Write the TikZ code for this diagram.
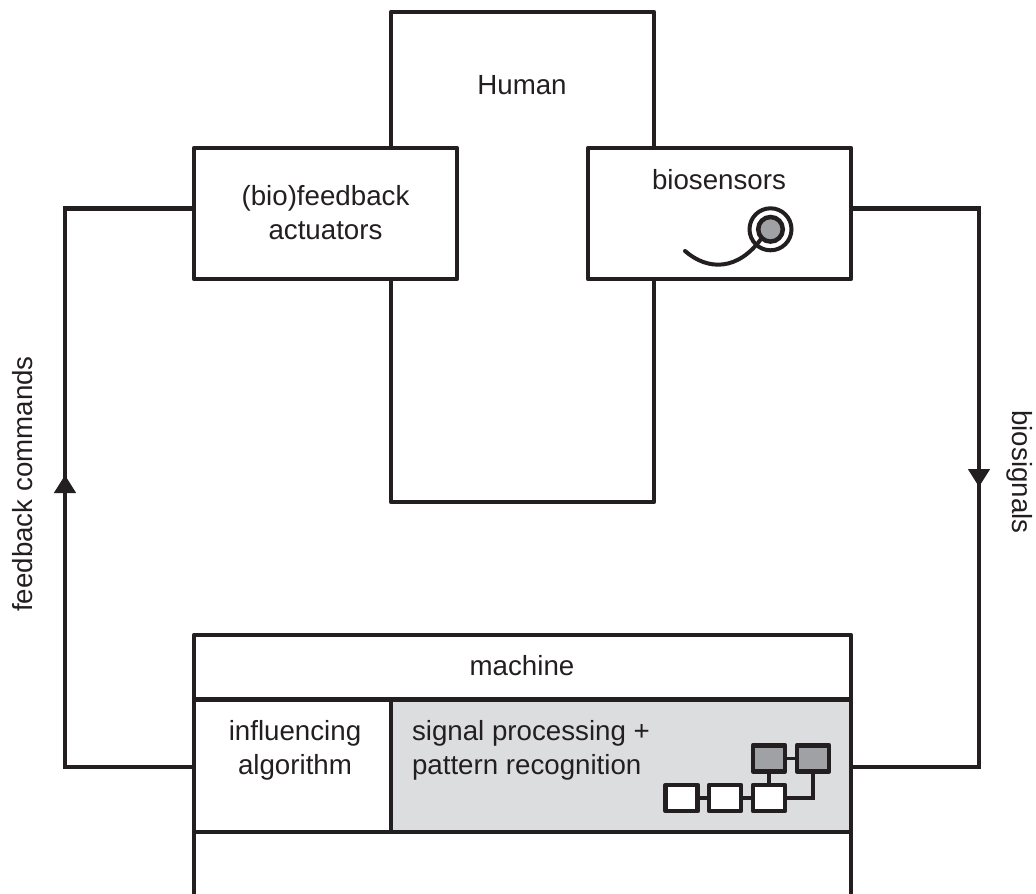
\documentclass[tikz,border=0pt]{standalone}
\usepackage{fontspec}
\setmainfont{Liberation Sans}
\usetikzlibrary{arrows.meta}
\definecolor{ink}{HTML}{231F20}
\definecolor{lightpanel}{HTML}{DCDDDF}
\definecolor{midgray}{HTML}{A0A1A4}
\tikzset{
  x=1pt,y=-1pt,
  every node/.style={font=\fontsize{27.7}{33.5}\selectfont,text=ink,inner sep=0pt,outer sep=0pt},
  boxed/.style={draw=ink,line width=4.7pt,fill=white,line join=round},
  wire/.style={draw=ink,line width=4.7pt},
  tiny/.style={draw=ink,line width=4.7pt,line join=round,fill=white,minimum width=32pt,minimum height=26pt},
  tinygray/.style={tiny,fill=midgray},
  tinywire/.style={draw=ink,line width=3.6pt},
  flowtip/.style={-{Triangle[length=18pt,width=21pt,sep=0pt]}},
  label/.style={align=center,anchor=base}
}
\begin{document}
\begin{tikzpicture}
\useasboundingbox (0,0) rectangle (1036,894);
\clip (0,0) rectangle (1036,894);
% Human
\node[boxed,minimum width=263pt,minimum height=490pt] (human) at (522.5,257) {};
\node[label] (humantext) at (522,94) {Human};
% Actuators and sensors
\node[boxed,minimum width=263pt,minimum height=131pt] (actu) at (325.5,213.5) {};
\node[label] (actutext) at (325.5,239) {(bio)feedback\\actuators};
\node[boxed,minimum width=263pt,minimum height=131pt] (sens) at (719.5,213.5) {};
\node[label] (senstext) at (719,189) {biosensors};
% Machine
\node[boxed,minimum width=657pt,minimum height=64.5pt] (mhead) at (522.5,667.25) {};
\node[label] (mheadtext) at (522,675) {machine};
\node[boxed,minimum width=197pt,minimum height=132.5pt] (algo) at (292.5,765.75) {};
\node[boxed,fill=lightpanel,minimum width=460pt,minimum height=132.5pt] (sig) at (621,765.75) {};
\node[label] (algotext) at (295,774) {influencing\\algorithm};
\node[anchor=base west,align=left] (sigtext) at (412,774) {signal processing +\\pattern recognition};
\coordinate (bl) at (194,900);
\coordinate (br) at (851,900);
\draw[ink,line width=4.7pt] (algo.south west) -- (bl);
\draw[ink,line width=4.7pt] (sig.south east) -- (br);
% Loop connectors
\coordinate (tl) at (65,208.5);
\coordinate (ml) at (65,767);
\coordinate (al) at (65,475);
\coordinate (tr) at (979,208.5);
\coordinate (mr) at (979,767);
\coordinate (ar) at (979,487);
\draw[wire] (actu.west |- tl) -- (tl) -- (ml) -- (algo.west |- ml);
\draw[wire] (sens.east |- tr) -- (tr) -- (mr) -- (sig.east |- mr);
\draw[wire,flowtip] (ml) -- (al);
\draw[wire,flowtip] (tr) -- (ar);
\node[rotate=90,anchor=base] (fbtext) at (32,484) {feedback commands};
\node[rotate=-90,anchor=base] (bstext) at (1012,472) {biosignals};
% Sensor icon
\node[circle,draw=ink,line width=4pt,minimum size=42pt] (ring) at (770.5,229.3) {};
\node[circle,draw=ink,fill=midgray,line width=4.5pt,minimum size=24.6pt] (core) at (770.5,229.3) {};
\coordinate (cableend) at (685,251);
\draw[ink,line width=4pt,line cap=round] (cableend) .. controls (708,271) and (738,271) .. (core.south west);
% Network icon
\node[tiny] (n1) at (681.7,798) {};
\node[tiny] (n2) at (725,798) {};
\node[tiny] (n3) at (769,798) {};
\node[tinygray] (g1) at (769,758.3) {};
\node[tinygray] (g2) at (813,758.3) {};
\draw[tinywire] (n1) -- (n2);
\draw[tinywire] (n2) -- (n3);
\draw[tinywire] (n3) -- (g1);
\draw[tinywire] (g1) -- (g2);
\draw[tinywire] (n3.east) -| (g2.south);
\end{tikzpicture}
\end{document}
